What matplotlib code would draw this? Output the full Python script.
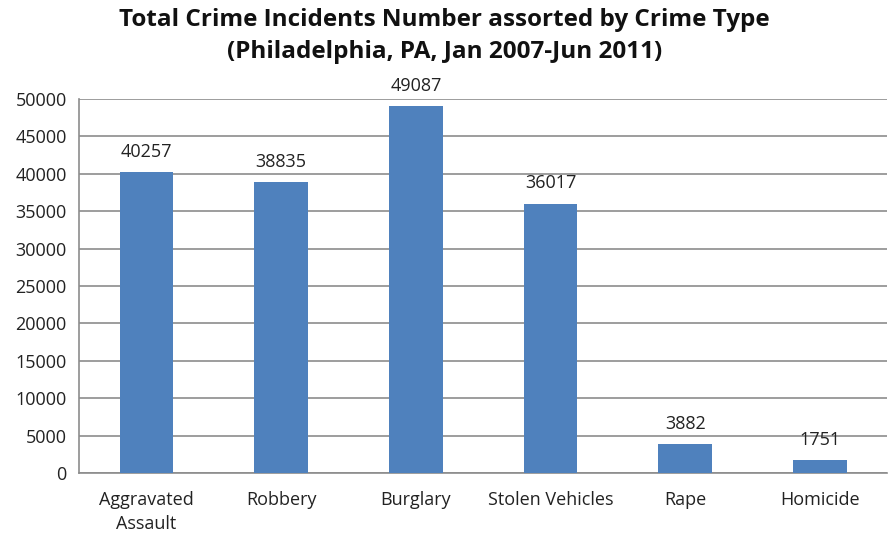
import matplotlib
matplotlib.use("Agg")
import matplotlib.pyplot as plt

categories = ["Aggravated\nAssault", "Robbery", "Burglary", "Stolen Vehicles", "Rape", "Homicide"]
incidents = [40257, 38835, 49087, 36017, 3882, 1751]
y_ticks = [0, 5000, 10000, 15000, 20000, 25000, 30000, 35000, 40000, 45000, 50000]

plt.rcParams["font.family"] = ["Open Sans", "DejaVu Sans"]

fig = plt.figure(figsize=(8.89, 5.36), dpi=100)
ax = fig.add_axes([0.089, 0.1175, 0.909, 0.698])

x = list(range(len(categories)))
ax.bar(x, incidents, width=0.4, color="#4F81BD", zorder=3)

for xi, v in zip(x, incidents):
    ax.annotate(str(v), (xi, v), xytext=(0, 8), textcoords="offset points",
                ha="center", va="bottom", fontsize=13, color="#222222")

ax.set_xlim(-0.5, len(categories) - 0.5)
ax.set_ylim(0, 50000)
ax.set_yticks(y_ticks)
ax.set_yticklabels([str(t) for t in y_ticks], fontsize=13, color="#222222")
ax.set_xticks(x)
ax.set_xticklabels(categories, fontsize=13, color="#222222", linespacing=1.45)
ax.tick_params(axis="both", length=0, pad=9)
ax.tick_params(axis="x", pad=13)

ax.yaxis.grid(True, color="#8c8c8c", linewidth=1.2, zorder=0)
for side in ("top", "right"):
    ax.spines[side].set_visible(False)
for side in ("left", "bottom"):
    ax.spines[side].set_color("#8c8c8c")
    ax.spines[side].set_linewidth(1.2)

fig.suptitle("Total Crime Incidents Number assorted by Crime Type\n(Philadelphia, PA, Jan 2007-Jun 2011)",
             fontsize=17.5, fontweight="bold", y=0.985, linespacing=1.45, color="#111111")

fig.savefig("out.png", dpi=100)
